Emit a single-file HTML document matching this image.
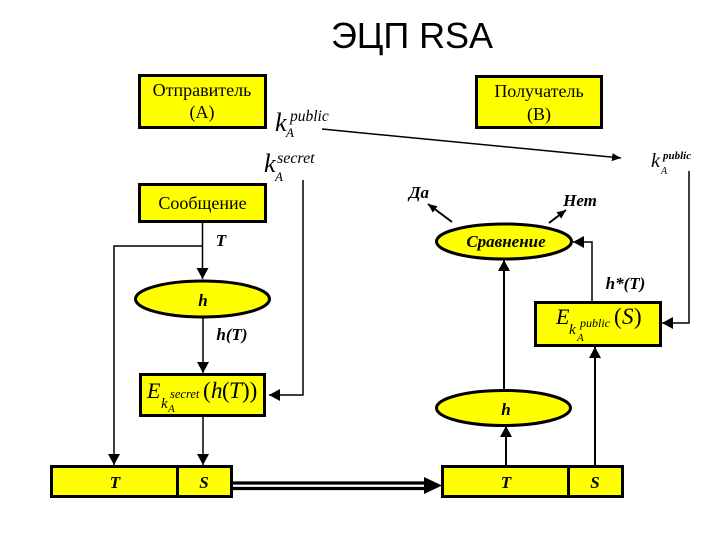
<!DOCTYPE html>
<html><head><meta charset="utf-8"><style>
html,body{margin:0;padding:0;background:#fff}
svg{display:block}
text{fill:#000}
.s{font-family:"Liberation Serif",serif;font-size:18px;text-anchor:middle}
.b{font-family:"Liberation Serif",serif;font-size:17px;font-weight:bold;font-style:italic;text-anchor:middle}
.m{font-family:"Liberation Serif",serif;font-style:italic}
</style></head><body>
<svg width="720" height="540" viewBox="0 0 720 540" xmlns="http://www.w3.org/2000/svg">
<defs>
<marker id="a" markerUnits="userSpaceOnUse" markerWidth="14" markerHeight="14" refX="11" refY="6" orient="auto"><path d="M0 0L11 6L0 12z" fill="#000"/></marker>
<marker id="c" markerUnits="userSpaceOnUse" markerWidth="12" markerHeight="10" refX="9" refY="4" orient="auto"><path d="M0 0L9 4L0 8z" fill="#000"/></marker>
</defs>
<text x="331" y="48" font-family="'Liberation Sans',sans-serif" font-size="36" textLength="162" lengthAdjust="spacing">ЭЦП RSA</text>

<g fill="#ffff00" stroke="#000" stroke-width="3">
<rect x="139.500" y="75.500" width="126" height="52"/>
<rect x="476.500" y="76.500" width="125" height="51"/>
<rect x="139.500" y="184.500" width="126" height="37"/>
<rect x="140.500" y="374.500" width="124" height="41"/>
<rect x="535.500" y="302.500" width="125" height="43"/>
<ellipse cx="504" cy="241.500" rx="67.500" ry="17.500"/>
<ellipse cx="202.500" cy="299" rx="67" ry="18"/>
<ellipse cx="503.500" cy="408" rx="67" ry="17.500"/>
<rect x="51.500" y="466.500" width="180" height="30"/>
<rect x="442.500" y="466.500" width="180" height="30"/>
<path d="M177.500 466V497M568.500 466V497" fill="none"/>
</g>

<g fill="none" stroke="#000" stroke-width="1.500">
<path d="M202.500 223V279" marker-end="url(#a)" />
<path d="M202.500 246H114V465" marker-end="url(#a)"/>
<path d="M203 318V373" marker-end="url(#a)"/>
<path d="M203 417V465" marker-end="url(#a)"/>
<path d="M303 180V395H269" marker-end="url(#a)"/>
<path d="M322 129L621 158" marker-end="url(#c)"/>
<path d="M689 171V323H662" marker-end="url(#a)"/>
<path d="M592 301V242H573" marker-end="url(#a)"/>
<path d="M504 389V260" marker-end="url(#a)" stroke-width="2"/>
<path d="M506 465V426" marker-end="url(#a)" stroke-width="2"/>
<path d="M595 465V347" marker-end="url(#a)" stroke-width="2"/>
<path d="M452 222L428 204" marker-end="url(#c)" stroke-width="2"/>
<path d="M549 223L566 210" marker-end="url(#c)" stroke-width="2"/>
</g>

<path d="M233 483H428M233 488.500H428" stroke="#000" stroke-width="3.200" fill="none"/>
<path d="M424 477L442 485.500L424 494z" fill="#000"/>

<text class="s" x="202" y="96">Отправитель</text>
<text class="s" x="202" y="118">(A)</text>
<text class="s" x="539" y="97">Получатель</text>
<text class="s" x="539" y="120">(B)</text>
<text class="s" x="202.500" y="209">Сообщение</text>

<text class="b" x="221" y="246">T</text>
<text class="b" x="203" y="306">h</text>
<text class="b" x="232" y="340" font-size="18">h(T)</text>
<text class="b" x="506" y="415">h</text>
<text class="b" x="625.500" y="289" font-size="18">h*(T)</text>
<text class="b" x="506" y="247" font-size="18">Сравнение</text>
<text class="b" x="419" y="198" font-size="20">Да</text>
<text class="b" x="580" y="206" font-size="18">Нет</text>
<text class="b" x="115" y="488">T</text>
<text class="b" x="204" y="488">S</text>
<text class="b" x="506" y="488">T</text>
<text class="b" x="595" y="488">S</text>

<g class="m">
<text x="275" y="131" font-size="26">k</text><text x="290" y="121" font-size="15.500">public</text><text x="286" y="137" font-size="13">A</text>
<text x="264" y="172" font-size="26">k</text><text x="277" y="163" font-size="16">secret</text><text x="275" y="181" font-size="13">A</text>
<text x="651" y="167" font-size="20">k</text><text x="663" y="159" font-size="11" font-weight="bold">public</text><text x="661" y="174" font-size="10">A</text>
<text x="147" y="398" font-size="22">E</text><text x="161" y="408" font-size="15">k</text><text x="170" y="398" font-size="12.500">secret</text><text x="168" y="412" font-size="11">A</text>
<text x="203" y="398" font-size="23" font-style="normal">(</text><text x="211" y="398" font-size="23">h</text><text x="222" y="398" font-size="23" font-style="normal">(</text><text x="229" y="398" font-size="23">T</text><text x="242" y="398" font-size="23" font-style="normal">))</text>
<text x="556" y="324" font-size="22">E</text><text x="569" y="334" font-size="15">k</text><text x="580" y="327" font-size="12">public</text><text x="577" y="341" font-size="11">A</text>
<text x="614" y="324" font-size="23" font-style="normal">(</text><text x="622" y="324" font-size="23">S</text><text x="634" y="324" font-size="23" font-style="normal">)</text>
</g>
</svg>
</body></html>
